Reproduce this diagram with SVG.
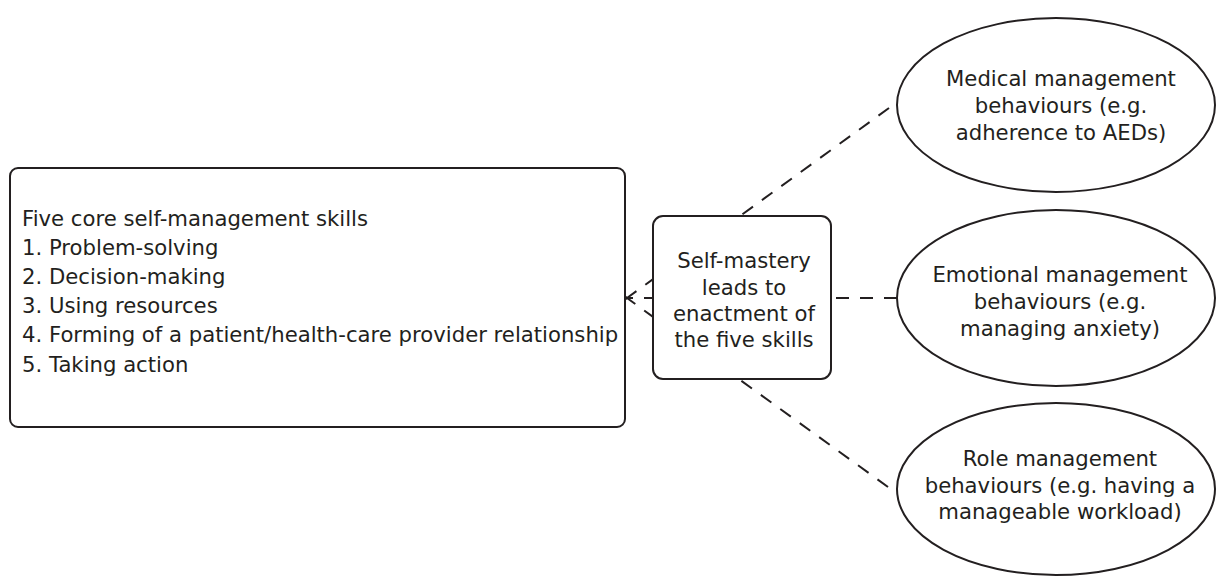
<svg xmlns="http://www.w3.org/2000/svg" width="1216" height="576" viewBox="0 0 1216 576">
<style>
.box{fill:#fff;stroke:#231f20;stroke-width:2}
.conn{fill:none;stroke:#231f20;stroke-width:2;stroke-dasharray:13 11}
text{font-family:"DejaVu Sans","Open Sans",sans-serif;font-size:21.2px;fill:#231f20}
.c{text-anchor:middle}
</style>
<defs>
<marker id="arr" viewBox="0 0 12 18" refX="1" refY="9" markerWidth="12" markerHeight="18" markerUnits="userSpaceOnUse" orient="auto">
<path d="M11,1 L1,9 L11,17" fill="none" stroke="#231f20" stroke-width="2"/>
</marker>
</defs>
<rect width="1216" height="576" fill="#fff"/>
<g id="connectors">
<line class="conn" x1="889" y1="108" x2="627" y2="298"/>
<line class="conn" x1="888" y1="487" x2="627" y2="298"/>
<line class="conn" x1="897" y1="298" x2="627" y2="298" marker-end="url(#arr)"/>
</g>
<g id="skills">
<rect class="box" x="10" y="168" width="615" height="259" rx="8"/>
<text x="22" y="226">Five core self-management skills</text>
<text x="22" y="255">1. Problem-solving</text>
<text x="22" y="284">2. Decision-making</text>
<text x="22" y="313">3. Using resources</text>
<text x="22" y="342">4. Forming of a patient/health-care provider relationship</text>
<text x="22" y="372">5. Taking action</text>
</g>
<g id="selfmastery">
<rect class="box" x="653" y="216" width="178" height="163" rx="10"/>
<text class="c" x="744" y="268">Self-mastery</text>
<text class="c" x="744" y="295">leads to</text>
<text class="c" x="744" y="321">enactment of</text>
<text class="c" x="744" y="347">the five skills</text>
</g>
<g id="medical">
<ellipse class="box" cx="1056" cy="105" rx="159" ry="87"/>
<text class="c" x="1061" y="86">Medical management</text>
<text class="c" x="1061" y="113">behaviours (e.g.</text>
<text class="c" x="1061" y="140">adherence to AEDs)</text>
</g>
<g id="emotional">
<ellipse class="box" cx="1056" cy="298" rx="159" ry="88"/>
<text class="c" x="1060" y="282">Emotional management</text>
<text class="c" x="1060" y="309">behaviours (e.g.</text>
<text class="c" x="1060" y="336">managing anxiety)</text>
</g>
<g id="role">
<ellipse class="box" cx="1056" cy="489" rx="159" ry="86"/>
<text class="c" x="1060" y="466">Role management</text>
<text class="c" x="1060" y="493">behaviours (e.g. having a</text>
<text class="c" x="1060" y="519">manageable workload)</text>
</g>
</svg>
